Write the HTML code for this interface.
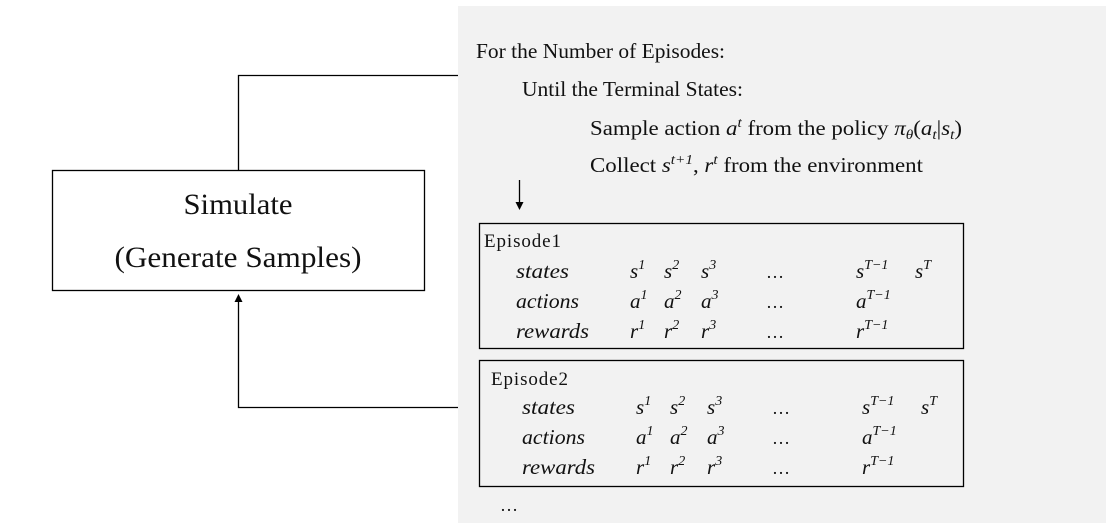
<!DOCTYPE html>
<html><head><meta charset="utf-8"><style>
html,body{margin:0;padding:0;background:#fff;width:1115px;height:530px;overflow:hidden}
svg{display:block}
text{font-family:"Liberation Serif",serif;fill:#111}
.m{font-style:italic}
</style></head><body>
<svg width="1115" height="530" viewBox="0 0 1115 530">
<defs><marker id="ah" markerWidth="8" markerHeight="8" refX="4" refY="4" orient="auto" markerUnits="userSpaceOnUse"><path d="M0,0 L8,4 L0,8 z" fill="#000"/></marker></defs>
<rect x="458" y="6" width="648" height="517" fill="#f2f2f2"/>
<rect x="52.5" y="170.5" width="372" height="120" fill="#fff" stroke="#000" stroke-width="1.3"/>
<text x="238" y="214" font-size="30" text-anchor="middle" textLength="109" lengthAdjust="spacingAndGlyphs">Simulate</text>
<text x="238" y="267" font-size="30" text-anchor="middle" textLength="247" lengthAdjust="spacingAndGlyphs">(Generate Samples)</text>
<polyline points="238.5,170 238.5,75.5 458,75.5" fill="none" stroke="#000" stroke-width="1.3"/>
<polyline points="458,407.5 238.5,407.5 238.5,298" fill="none" stroke="#000" stroke-width="1.3" marker-end="url(#ah)"/>
<text x="476" y="58" font-size="21" textLength="249" lengthAdjust="spacingAndGlyphs">For the Number of Episodes:</text>
<text x="522" y="96" font-size="21" textLength="221" lengthAdjust="spacingAndGlyphs">Until the Terminal States:</text>
<text x="590" y="135" font-size="21" textLength="372" lengthAdjust="spacingAndGlyphs">Sample action  <tspan class="m">a</tspan><tspan class="m" font-size="14" dy="-8">t</tspan><tspan dy="8"> from the policy </tspan><tspan class="m">π</tspan><tspan class="m" font-size="14" dy="4">θ</tspan><tspan dy="-4">(</tspan><tspan class="m">a</tspan><tspan class="m" font-size="14" dy="4">t</tspan><tspan dy="-4">|</tspan><tspan class="m">s</tspan><tspan class="m" font-size="14" dy="4">t</tspan><tspan dy="-4">)</tspan></text>
<text x="590" y="172" font-size="21" textLength="333" lengthAdjust="spacingAndGlyphs">Collect  <tspan class="m">s</tspan><tspan class="m" font-size="14" dy="-8">t+1</tspan><tspan dy="8">, </tspan><tspan class="m">r</tspan><tspan class="m" font-size="14" dy="-8">t</tspan><tspan dy="8"> from the environment</tspan></text>
<line x1="519.5" y1="180" x2="519.5" y2="206" stroke="#000" stroke-width="1.3" marker-end="url(#ah)"/>
<g id="eps"></g>
<text x="500" y="511" font-size="18">…</text>
</svg>
<script>
const episodes=[{name:"Episode1",x:479,y:223,h:125,lx:484,ty:247,rx:516,rows:[278,308,338],dx:0},
{name:"Episode2",x:479,y:360,h:126,lx:491,ty:385,rx:522,rows:[414,444,474],dx:6}];
const rowLabels=["states","actions","rewards"];
const labelWidths=[53,63,73];
const vars=["s","a","r"];
const NS="http://www.w3.org/2000/svg";
const g=document.getElementById("eps");
function t(x,y,size,cls){const e=document.createElementNS(NS,"text");e.setAttribute("x",x);e.setAttribute("y",y);e.setAttribute("font-size",size);if(cls)e.setAttribute("class",cls);g.appendChild(e);return e;}
function sup(e,base,s){e.innerHTML='<tspan class="m">'+base+'</tspan><tspan class="m" font-size="14" dy="-9">'+s+'</tspan>';}
episodes.forEach((ep,i)=>{
 const r=document.createElementNS(NS,"rect");
 r.setAttribute("x",ep.x+0.5);r.setAttribute("y",ep.y+0.5);r.setAttribute("width",484);r.setAttribute("height",ep.h);
 r.setAttribute("fill","none");r.setAttribute("stroke","#000");r.setAttribute("stroke-width","1.3");
 
 
 g.appendChild(r);
 const n=t(ep.lx,ep.ty,19);n.textContent=ep.name;
 n.setAttribute("textLength",77);
 
 
 rowLabels.forEach((lab,j)=>{
  const y=ep.rows[j];
  const l=t(ep.rx,y,21,"m");l.textContent=lab;
  l.setAttribute("textLength",labelWidths[j]);
  l.setAttribute("lengthAdjust","spacingAndGlyphs");
  
  
  const v=vars[j];
  [[630,"1"],[664,"2"],[701,"3"]].forEach(([x,s])=>{const e=t(x+ep.dx,y,21);sup(e,v,s);
   
   });
  const d=t(766+ep.dx,y,18);d.textContent="…";
  
  
  const e=t(856+ep.dx,y,21);sup(e,v,"T−1");
  
  
  if(j===0){const f=t(915+ep.dx,y,21);sup(f,v,"T");
   
   }
 });
});
</script>
</body></html>
